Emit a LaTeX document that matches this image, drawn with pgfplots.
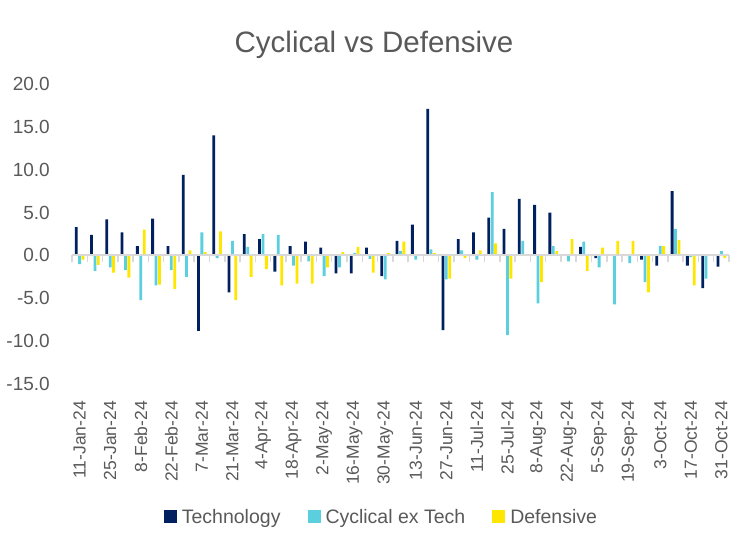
\documentclass[border=0pt]{standalone}
\usepackage{fontspec}
\setmainfont{Liberation Sans}
\usepackage{pgfplots}
\usepackage{pgfplotstable}
\pgfplotsset{compat=1.18}

\definecolor{tech}{HTML}{002060}
\definecolor{cyc}{HTML}{5BCFDE}
\definecolor{def}{HTML}{FFE600}
\definecolor{txt}{HTML}{595959}
\definecolor{axisgray}{HTML}{D9D9D9}

\pgfplotsset{sq/.style={fill=#1, draw=none,
  legend image code/.code={\fill[#1] (0pt,-6.5pt) rectangle (13pt,6.5pt);}}}

% weekly returns, x = week index from 11-Jan-24
\pgfplotstableread{
x tech cyc def
0 3.3 -1.0 -0.5
1 2.4 -1.8 -1.1
2 4.2 -1.4 -2.0
3 2.7 -1.7 -2.6
4 1.1 -5.2 3.0
5 4.3 -3.5 -3.4
6 1.1 -1.7 -3.9
7 9.4 -2.5 0.6
8 -8.8 2.7 0.4
9 14.0 -0.3 2.8
10 -4.3 1.7 -5.2
11 2.5 1.0 -2.5
12 1.9 2.5 -1.6
13 -1.9 2.4 -3.5
14 1.1 -1.2 -3.3
15 1.6 -0.7 -3.3
16 0.9 -2.4 -1.4
17 -2.1 -1.4 0.4
18 -2.1 0.3 1.0
19 0.9 -0.4 -2.0
20 -2.4 -2.8 0.3
21 1.7 0.5 1.6
22 3.6 -0.5 0.1
23 17.1 0.7 0.3
24 -8.7 -2.8 -2.7
25 1.9 0.6 -0.3
26 2.7 -0.5 0.6
27 4.4 7.4 1.4
28 3.1 -9.3 -2.7
29 6.6 1.7 0.0
30 5.9 -5.6 -3.1
31 5.0 1.1 0.5
32 0.1 -0.7 1.9
33 1.0 1.6 -1.8
34 -0.3 -1.4 0.9
35 0.0 -5.7 1.7
36 0.0 -0.9 1.7
37 -0.5 -3.1 -4.3
38 -1.2 1.1 1.1
39 7.5 3.1 1.8
40 -1.2 -0.2 -3.5
41 -3.8 -2.7 0.0
42 -1.3 0.5 -0.3
}\weekly

\begin{document}
\begin{tikzpicture}
\path[use as bounding box] (-72pt,-158pt) rectangle (676pt,384pt);

\begin{axis}[
  at={(0,0)}, anchor=south west,
  scale only axis, width=657pt, height=300pt,
  xmin=-0.5, xmax=42.5, ymin=-15, ymax=20,
  ybar=0.6pt, bar width=2.8pt,
  axis line style={draw=none},
  major tick length=0pt,
  xtick={0,2,...,42},
  xticklabels={11-Jan-24,25-Jan-24,8-Feb-24,22-Feb-24,7-Mar-24,21-Mar-24,4-Apr-24,18-Apr-24,2-May-24,16-May-24,30-May-24,13-Jun-24,27-Jun-24,11-Jul-24,25-Jul-24,8-Aug-24,22-Aug-24,5-Sep-24,19-Sep-24,3-Oct-24,17-Oct-24,31-Oct-24},
  xticklabel style={rotate=90, anchor=east, inner sep=0pt, text=txt, font=\fontsize{17.5}{20}\selectfont},
  xticklabel shift=17pt,
  ytick={-15,-10,-5,0,5,10,15,20},
  yticklabels={-15.0,-10.0,-5.0,0.0,5.0,10.0,15.0,20.0},
  yticklabel style={anchor=east, inner sep=0pt, text=txt, font=\fontsize{19}{22}\selectfont},
  yticklabel shift=22pt,
  legend columns=3,
  legend style={at={(0.471,-0.443)}, anchor=center, draw=none, fill=none,
    text=txt, font=\fontsize{19.5}{22}\selectfont,
    /tikz/every odd column/.append style={column sep=3pt},
    /tikz/every even column/.append style={column sep=25pt}},
]
\addplot[sq=tech] table[x=x, y=tech] {\weekly};
\addlegendentry{Technology}
\addplot[sq=cyc] table[x=x, y=cyc] {\weekly};
\addlegendentry{Cyclical ex Tech}
\addplot[sq=def] table[x=x, y=def] {\weekly};
\addlegendentry{Defensive}
\end{axis}

% zero line with separators between weeks
\begin{axis}[
  at={(0,0)}, anchor=south west,
  scale only axis, width=657pt, height=300pt,
  xmin=-0.5, xmax=42.5, ymin=-15, ymax=20,
  axis x line*=middle, axis y line=none,
  xtick={-0.5,0.5,...,42.5}, xticklabels={}, ytick=\empty,
  tick align=outside, major tick length=7pt,
  axis line style={axisgray, line width=2pt},
  every tick/.style={axisgray, line width=1.5pt},
]
\end{axis}

\node[font=\fontsize{29.5}{34}\selectfont, text=txt] at (302pt,339pt) {Cyclical vs Defensive};
\end{tikzpicture}
\end{document}
